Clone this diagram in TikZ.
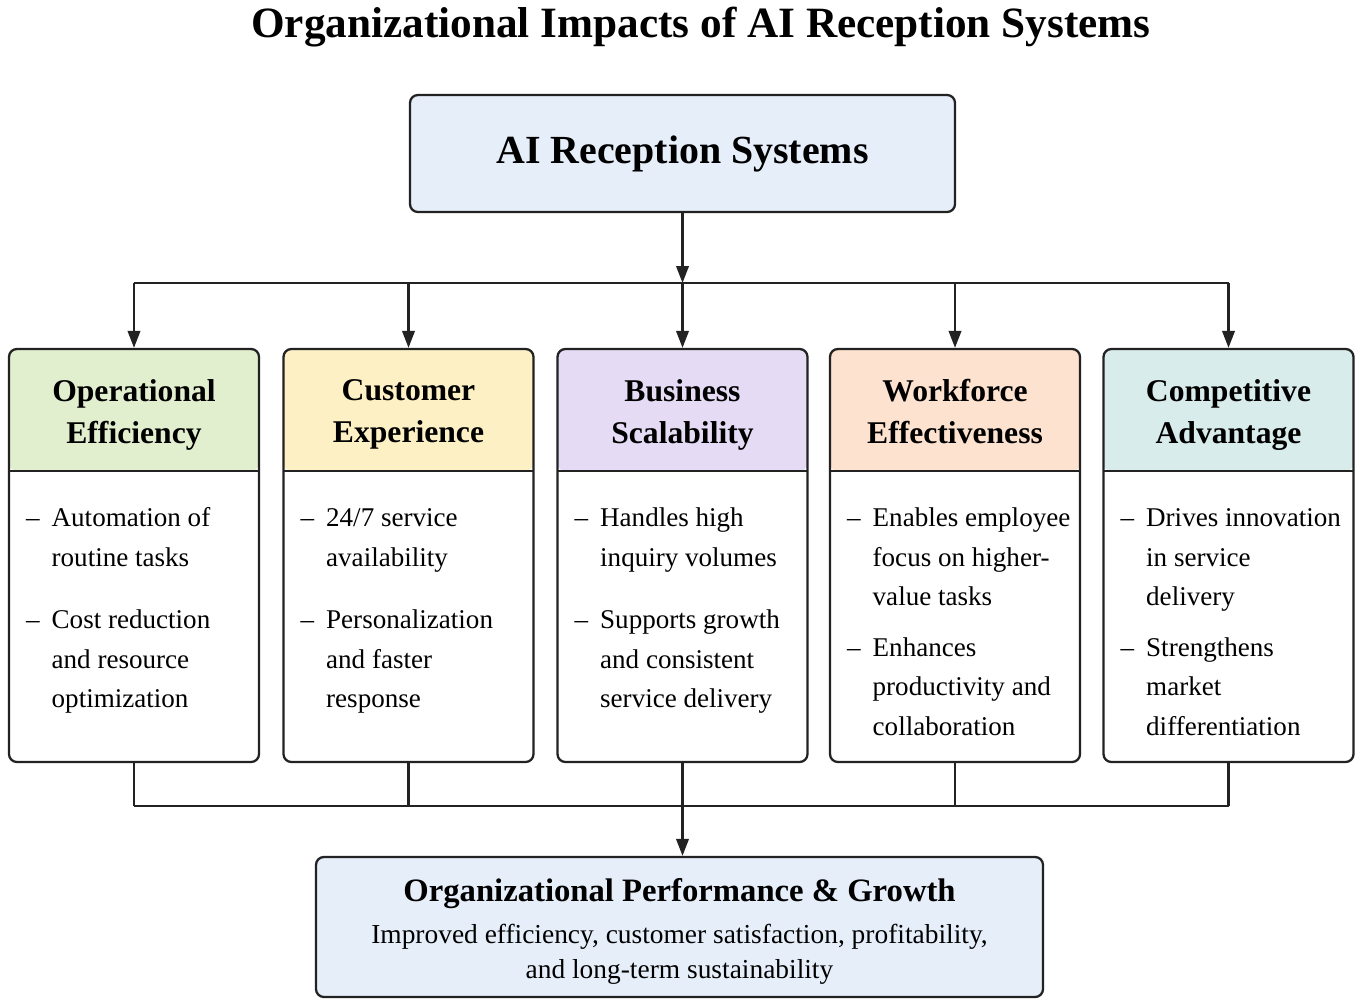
\documentclass[tikz,border=0pt]{standalone}
\usepackage{fontspec}
\setmainfont{Liberation Serif}
\usetikzlibrary{arrows.meta}
\definecolor{sysblue}{HTML}{E6EEF9}
\definecolor{opgreen}{HTML}{E2EFCF}
\definecolor{cxyellow}{HTML}{FCF0C4}
\definecolor{bslilac}{HTML}{E5DBF4}
\definecolor{wfpeach}{HTML}{FCE2CF}
\definecolor{cmteal}{HTML}{D8ECEB}
\definecolor{edge}{HTML}{222222}
\tikzset{
  box/.style={draw=edge, line width=1.3pt, rounded corners=4.5pt},
  colbox/.style={box, fill=white, minimum width=5cm, minimum height=8.26cm,
    path picture={\fill[#1] (path picture bounding box.north west) rectangle ([yshift=-2.44cm]path picture bounding box.north east);
      \draw[edge, line width=1.3pt] ([yshift=-2.44cm]path picture bounding box.north west) -- ([yshift=-2.44cm]path picture bounding box.north east);}},
  hdr/.style={anchor=north, align=center, font=\fontsize{18}{24}\selectfont\bfseries},
  body/.style={anchor=north west, inner sep=0pt, font=\fontsize{15.4}{22.5}\selectfont},
  link/.style={draw=edge, line width=1.3pt},
  arr/.style={link, -{Triangle[length=0.34cm, width=0.25cm]}}
}
\begin{document}
\begin{tikzpicture}[line join=round]
\useasboundingbox (0,0) rectangle (27.2,-20.06);
% title and source box
\node[font=\fontsize{24.6}{30}\selectfont\bfseries, anchor=base] (title) at (14.02,-0.74) {Organizational Impacts of AI Reception Systems};
\node[box, fill=sysblue, minimum width=10.9cm, minimum height=2.34cm, font=\fontsize{22.7}{28}\selectfont\bfseries] (sys) at (13.65,-3.07) {AI Reception Systems};
% the five impact columns
\foreach \i/\x/\col/\hd/\bd in {
  1/2.68/opgreen/{Operational\\Efficiency}/{-- & Automation of\\ & routine tasks\\[12.8pt] -- & Cost reduction\\ & and resource\\ & optimization},
  2/8.17/cxyellow/{Customer\\Experience}/{-- & 24/7 service\\ & availability\\[12.8pt] -- & Personalization\\ & and faster\\ & response},
  3/13.65/bslilac/{Business\\Scalability}/{-- & Handles high\\ & inquiry volumes\\[12.8pt] -- & Supports growth\\ & and consistent\\ & service delivery},
  4/19.1/wfpeach/{Workforce\\Effectiveness}/{-- & Enables employee\\ & focus on higher-\\ & value tasks\\[6.2pt] -- & Enhances\\ & productivity and\\ & collaboration},
  5/24.57/cmteal/{Competitive\\Advantage}/{-- & Drives innovation\\ & in service\\ & delivery\\[6.2pt] -- & Strengthens\\ & market\\ & differentiation}}{
  \node[colbox=\col] (c\i) at (\x,-11.11) {};
  \node[hdr] (h\i) at ([yshift=-0.5cm]c\i.north) {\hd};
  \node[body] (t\i) at ([xshift=0.36cm,yshift=-3.02cm]c\i.north west) {\begin{tabular}{@{}l@{\hspace{6.8pt}}l@{}}\bd\end{tabular}};
}
% result box
\node[box, fill=sysblue, minimum width=14.54cm, minimum height=2.8cm, align=center, font=\fontsize{15.6}{20}\selectfont] (perf) at (13.59,-18.54) {{\fontsize{18.6}{24}\selectfont\bfseries\rule{0pt}{18pt}Organizational Performance \& Growth}\\[4pt] Improved efficiency, customer satisfaction, profitability,\\ and long-term sustainability};
% connectors
\coordinate (busT) at (13.65,-5.66);
\coordinate (busB) at (13.65,-16.12);
\draw[arr] (sys.south) -- (busT);
\draw[link] (c1.north |- busT) -- (c5.north |- busT);
\foreach \i in {1,...,5} \draw[arr] (c\i.north |- busT) -- (c\i.north);
\foreach \i in {1,...,5} \draw[link] (c\i.south) -- (c\i.south |- busB);
\draw[link] (c1.south |- busB) -- (c5.south |- busB);
\draw[arr] (busB) -- (busB |- perf.north);
\end{tikzpicture}
\end{document}
